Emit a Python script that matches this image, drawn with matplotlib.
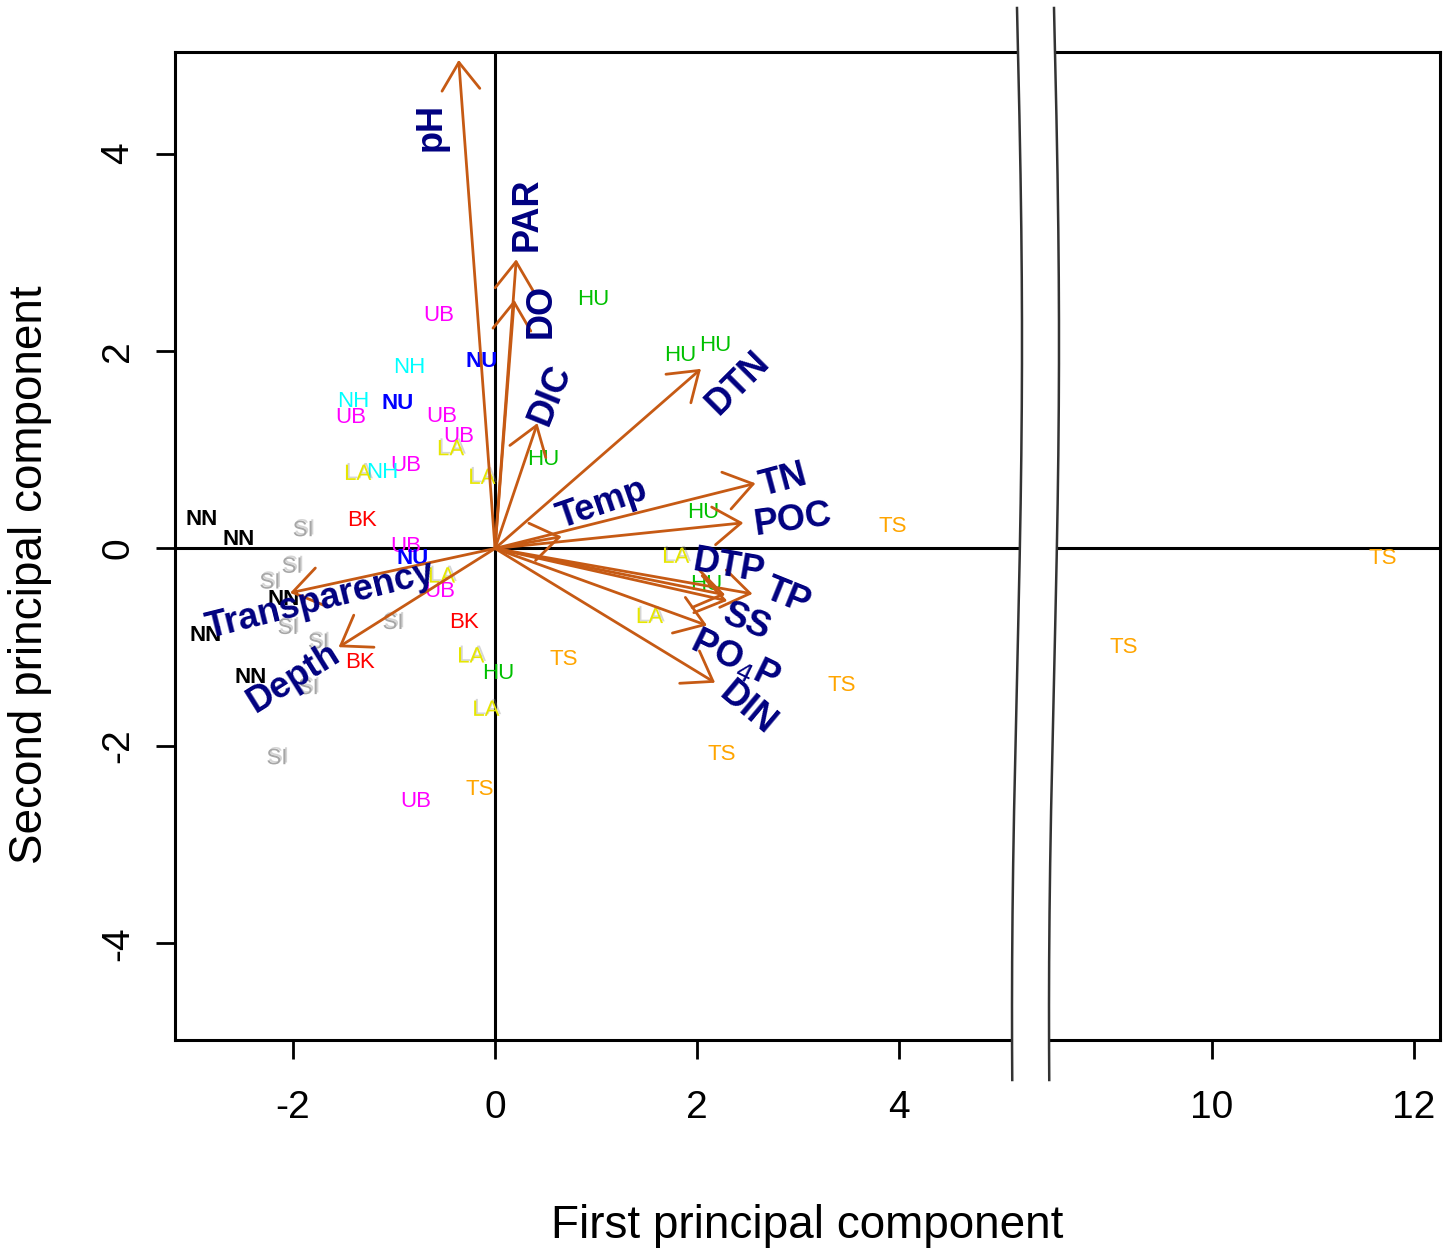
import numpy as np
import matplotlib
matplotlib.use("Agg")
import matplotlib.pyplot as plt
import matplotlib.patheffects as pe
from matplotlib.scale import FuncScale

plt.rcParams['font.family'] = ['Liberation Sans', 'DejaVu Sans']
plt.rcParams['axes.unicode_minus'] = False

# site scores (first / second principal component)
nn_x = [-2.91, -2.54, -2.09, -2.87, -2.42]
nn_y = [0.29, 0.09, -0.52, -0.88, -1.31]
si_x = [-1.90, -2.01, -2.23, -2.05, -1.75, -1.01, -1.85, -2.16]
si_y = [0.18, -0.19, -0.35, -0.81, -0.96, -0.76, -1.42, -2.13]
bk_x = [-1.32, -0.31, -1.34]
bk_y = [0.28, -0.75, -1.16]
ub_x = [-0.56, -1.43, -0.53, -0.36, -0.88, -0.88, -0.55, -0.79]
ub_y = [2.36, 1.33, 1.34, 1.13, 0.84, 0.02, -0.44, -2.56]
nu_x = [-0.13, -0.96, -0.82]
nu_y = [1.89, 1.47, -0.10]
nh_x = [-0.85, -1.40, -1.12]
nh_y = [1.83, 1.49, 0.77]
la_x = [-0.44, -0.13, -1.36, -0.53, 1.79, 1.53, -0.24, -0.09]
la_y = [1.00, 0.71, 0.75, -0.29, -0.09, -0.70, -1.10, -1.64]
hu_x = [0.97, 1.83, 2.18, 0.48, 2.06, 2.09, 0.03]
hu_y = [2.52, 1.96, 2.06, 0.90, 0.36, -0.36, -1.27]
ts_x = [3.94, 11.69, 9.13, 3.43, 2.25, 0.68, -0.15]
ts_y = [0.22, -0.10, -1.00, -1.39, -2.09, -1.12, -2.44]

# variable loadings (arrow tips) and label positions
var_names = ['pH', 'PAR', 'DO', 'DIC', 'DTN', 'TN', 'POC', 'Temp',
             'DTP', 'TP', 'SS', 'PO$_4$P', 'DIN', 'Transparency', 'Depth']
var_x = [-0.36, 0.21, 0.19, 0.42, 2.04, 2.58, 2.46, 0.66,
         2.28, 2.55, 2.30, 2.10, 2.18, -2.03, -1.55]
var_y = [4.95, 2.93, 2.52, 1.27, 1.82, 0.66, 0.26, 0.12,
         -0.47, -0.46, -0.53, -0.78, -1.36, -0.45, -1.00]
lab_x = [-0.63, 0.32, 0.46, 0.55, 2.41, 2.86, 2.95, 1.06,
         2.31, 2.90, 2.49, 2.38, 2.50, -1.73, -1.99]
lab_y = [4.27, 3.39, 2.41, 1.56, 1.68, 0.69, 0.29, 0.45,
         -0.19, -0.49, -0.75, -1.13, -1.62, -0.53, -1.31]
lab_rot = [90, 90, 90, 68, 45, 15, 8, 19, -10, -22, -22, -26, -40, 14, 32]

groups = [('NN', nn_x, nn_y, 'black', 'bold'),
          ('SI', si_x, si_y, '#A6A6A6', 'normal'),
          ('BK', bk_x, bk_y, '#FF0000', 'normal'),
          ('UB', ub_x, ub_y, '#FF00FF', 'normal'),
          ('NU', nu_x, nu_y, '#0000FF', 'bold'),
          ('NH', nh_x, nh_y, '#00FFFF', 'normal'),
          ('LA', la_x, la_y, '#E6E600', 'normal'),
          ('HU', hu_x, hu_y, '#00C000', 'normal'),
          ('TS', ts_x, ts_y, '#FFA500', 'normal')]

# broken x axis: 5.25 .. 8.35 squeezed into a small gap
B0, B1, GAP = 5.25, 8.35, 0.2


def fwd(x):
    x = np.asarray(x, float)
    return np.where(x <= B0, x,
                    np.where(x >= B1, x - (B1 - B0) + GAP,
                             B0 + (x - B0) * GAP / (B1 - B0)))


def inv(u):
    u = np.asarray(u, float)
    return np.where(u <= B0, u,
                    np.where(u >= B0 + GAP, u + (B1 - B0) - GAP,
                             B0 + (u - B0) * (B1 - B0) / GAP))


fig = plt.figure(figsize=(14.45, 12.51), dpi=100)
ax = fig.add_axes([175 / 1445, 211 / 1251, 1265 / 1445, 988 / 1251])
ax.set_xscale(FuncScale(ax, (fwd, inv)))
ax.set_xlim(-3.17, 12.26)
ax.set_ylim(-4.98, 5.03)

ax.axhline(0, color='black', lw=2.2, zorder=1)
ax.axvline(0, color='black', lw=2.2, zorder=1)

# site labels (SI and LA look double printed in the original)
shadow = [pe.withSimplePatchShadow(offset=(1.2, 1.2), shadow_rgbFace='#888888', alpha=0.35)]
for name, xs, ys, col, w in groups:
    for x, y in zip(xs, ys):
        t = ax.text(x, y, name, color=col, fontsize=16, fontweight=w,
                    ha='center', va='center', zorder=3)
        if name in ('SI', 'LA'):
            t.set_path_effects(shadow)

# loading arrows
arrow_col = '#C65A14'
for x, y in zip(var_x, var_y):
    ax.annotate('', xy=(x, y), xytext=(0, 0),
                arrowprops=dict(arrowstyle='->,head_length=0.9,head_width=0.62',
                                color=arrow_col, lw=2.0, mutation_scale=22,
                                shrinkA=0, shrinkB=0), zorder=4)

for name, x, y, r in zip(var_names, lab_x, lab_y, lab_rot):
    ax.text(x, y, name, color='#000080', fontsize=26, fontweight='bold',
            rotation=r, rotation_mode='anchor', ha='center', va='center',
            zorder=5)

# axes styling
for s in ax.spines.values():
    s.set_linewidth(2.2)
ax.set_xticks([-2, 0, 2, 4, 10, 12])
ax.set_xticklabels(['-2', '0', '2', '4', '10', '12'])
ax.set_yticks([-4, -2, 0, 2, 4])
ax.set_yticklabels(['-4', '-2', '0', '2', '4'])
ax.tick_params(axis='both', length=14, width=2, labelsize=28)
ax.tick_params(axis='x', pad=22)
ax.tick_params(axis='y', pad=14)
for lab in ax.get_yticklabels():
    lab.set_rotation(90)
    lab.set_va('center')

ax.set_xlabel('First principal component', fontsize=33)
ax.set_ylabel('Second principal component', fontsize=33)
ax.xaxis.set_label_coords(0.5, -(1204 - 1040) / 988)
ax.yaxis.set_label_coords((52 - 175) / 1265, (1040 - 575) / 988)

# break marks drawn in pixel-like axes coordinates
t = np.linspace(0, 1, 200)
py = 8 + t * (1080 - 8)
px_left = 1017 + 5 * np.sin(1.6 * np.pi * t)
px_right = px_left + 37
ya = (1040 - py) / 988
xl = (px_left - 175) / 1265
xr = (px_right - 175) / 1265
ax.fill_betweenx(ya, xl, xr, transform=ax.transAxes, color='white',
                 clip_on=False, zorder=6, lw=0)
ax.plot(xl, ya, transform=ax.transAxes, color='#333333', lw=1.8,
        clip_on=False, zorder=7)
ax.plot(xr, ya, transform=ax.transAxes, color='#333333', lw=1.8,
        clip_on=False, zorder=7)

fig.savefig('out.png', dpi=100)
